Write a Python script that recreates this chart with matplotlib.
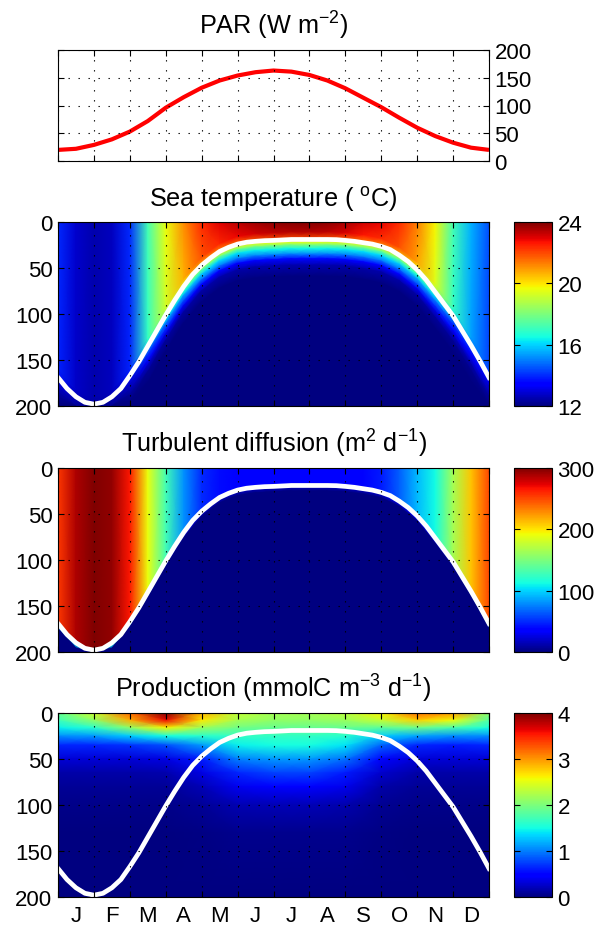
import numpy as np
import matplotlib
matplotlib.use('Agg')
import matplotlib.pyplot as plt

plt.rcParams['font.family'] = ['Liberation Sans', 'DejaVu Sans']
plt.rcParams['mathtext.fontset'] = 'custom'
plt.rcParams['mathtext.rm'] = 'Liberation Sans'
plt.rcParams['mathtext.it'] = 'Liberation Sans:italic'
plt.rcParams['mathtext.bf'] = 'Liberation Sans:bold'

months = ['J', 'F', 'M', 'A', 'M', 'J', 'J', 'A', 'S', 'O', 'N', 'D']

# time nodes, months since 1 Jan
t_half = np.linspace(0, 12, 25)
t_quarter = np.linspace(0, 12, 49)

# surface PAR (W m-2), half-monthly
par = [20, 22, 29, 39, 53, 72, 96, 115, 132, 145, 154, 160, 163,
       161, 155, 145, 131, 114, 97, 78, 60, 45, 33, 24, 20]

# mixed layer depth (m), quarter-monthly (white line)
mld = [169, 181, 190, 196, 198, 196, 190, 181, 167, 152, 135, 118,
       101, 85, 70, 57, 47, 39, 32, 27.5, 24, 22, 21, 20.3,
       20, 19.5, 19, 19, 19, 19, 19, 19.2, 20, 21, 22.5, 24,
       26.5, 30, 36, 43, 52, 63, 76, 89, 102, 118, 134, 151, 169]

# mixed layer temperature (C), half-monthly
sst = [14.0, 12.8, 12.5, 12.7, 14.0, 17.2, 19.6, 21.1, 22.4, 23.0, 23.4, 23.7, 23.9,
       24.0, 24.0, 23.9, 23.6, 23.2, 22.9, 22.4, 21.3, 19.8, 17.2, 15.6, 14.4]
temp_deep = 12.0
# offset from mixed layer depth (m) -> fraction of the surface anomaly
temp_offset = [-8, 0, 3, 6, 10, 16, 21, 28, 40]
temp_frac = [0.95, 0.82, 0.62, 0.5, 0.37, 0.25, 0.13, 0.04, 0.0]

# mixed layer diffusivity (m2 d-1), half-monthly
kz = [255, 288, 300, 295, 265, 190, 130, 80, 50, 40, 37, 36, 36,
      36, 36, 36, 37, 38, 45, 65, 92, 112, 165, 210, 250]
kz_deep = 0.0
kz_offset = [0, 3, 6]
kz_frac = [1.0, 0.35, 0.0]

# production (mmolC m-3 d-1), monthly nodes x depth levels
prod_t = np.arange(13)
prod_z = [0, 8, 16, 25, 35, 50, 65, 80, 100, 130, 200]
prod = [
    [1.9, 1.7, 1.45, 1.05, 0.65, 0.3, 0.15, 0.08, 0.04, 0.01, 0.0],
    [2.4, 2.1, 1.6, 1.1, 0.65, 0.3, 0.15, 0.08, 0.04, 0.01, 0.0],
    [3.2, 2.9, 2.1, 1.3, 0.7, 0.3, 0.15, 0.08, 0.04, 0.01, 0.0],
    [4.0, 3.6, 2.6, 1.5, 0.8, 0.35, 0.17, 0.08, 0.04, 0.01, 0.0],
    [2.9, 2.65, 2.15, 1.6, 1.1, 0.6, 0.35, 0.2, 0.08, 0.02, 0.0],
    [2.35, 2.2, 1.95, 1.65, 1.45, 1.0, 0.65, 0.4, 0.18, 0.05, 0.0],
    [2.2, 2.1, 1.9, 1.65, 1.5, 1.1, 0.75, 0.45, 0.2, 0.06, 0.0],
    [2.2, 2.1, 1.9, 1.65, 1.5, 1.1, 0.75, 0.45, 0.2, 0.06, 0.0],
    [2.3, 2.15, 1.9, 1.6, 1.4, 0.95, 0.6, 0.38, 0.16, 0.05, 0.0],
    [2.6, 2.35, 1.85, 1.3, 0.9, 0.5, 0.28, 0.15, 0.07, 0.02, 0.0],
    [3.2, 2.75, 1.95, 1.15, 0.65, 0.3, 0.15, 0.08, 0.04, 0.01, 0.0],
    [3.0, 2.55, 1.75, 1.05, 0.6, 0.3, 0.15, 0.08, 0.04, 0.01, 0.0],
    [2.1, 1.8, 1.5, 1.05, 0.65, 0.3, 0.15, 0.08, 0.04, 0.01, 0.0],
]


def mld_mesh(surf, deep, offsets, frac):
    # mesh rows follow the mixed layer depth (half-monthly nodes)
    z = np.array([[0.0] + [m + o for o in offsets] + [200.0] for m in mld[::2]])
    z = np.clip(z, 0, 200)
    z = np.maximum.accumulate(z, axis=1)
    f = np.array([1.0] + list(frac) + [0.0])
    c = deep + (np.array(surf) - deep)[:, None] * f[None, :]
    x = np.repeat(t_half[:, None], z.shape[1], axis=1)
    return x.T, z.T, c.T


def style(ax, bottom_labels=False):
    ax.set_xlim(0, 12)
    ax.set_xticks(range(13))
    ax.set_xticks(np.arange(12) + 0.5, minor=True)
    ax.set_xticklabels([])
    if bottom_labels:
        ax.set_xticklabels(months, minor=True)
    ax.tick_params(which='major', direction='in', length=4, width=0.8,
                   top=True, bottom=True, left=True, right=True, labelsize=16)
    ax.tick_params(which='minor', length=0, labelsize=16, pad=6)
    ax.grid(True, which='major', color='k', ls=(0, (1.2, 7.8)), lw=0.8)
    ax.set_axisbelow(False)
    for s in ax.spines.values():
        s.set_linewidth(0.8)


fig = plt.figure(figsize=(6.06, 9.28), dpi=100)
L, W = 58 / 606, 431 / 606
cb_l, cb_w = 514 / 606, 38 / 606

# PAR
ax0 = fig.add_axes([L, 1 - 162 / 928, W, 111 / 928])
ax0.plot(t_half, par, color='r', lw=3, solid_capstyle='butt')
style(ax0)
ax0.set_ylim(0, 200)
ax0.set_yticks([0, 50, 100, 150, 200])
ax0.yaxis.tick_right()
ax0.tick_params(axis='y', left=True, right=True, labelleft=False, labelright=True, pad=4)
ax0.set_title('PAR (W m$^{-2}$)', fontsize=18.2, pad=12)

panels = [
    (223, 'Sea temperature ( $^{\\mathrm{o}}$C)', (12, 24), [12, 16, 20, 24]),
    (469, 'Turbulent diffusion (m$^{2}$ d$^{-1}$)', (0, 300), [0, 100, 200, 300]),
    (714, 'Production (mmolC m$^{-3}$ d$^{-1}$)', (0, 4), [0, 1, 2, 3, 4]),
]
fields = [
    mld_mesh(sst, temp_deep, temp_offset, temp_frac),
    mld_mesh(kz, kz_deep, kz_offset, kz_frac),
    None,
]

for i, ((top, title, lim, cticks), fld) in enumerate(zip(panels, fields)):
    ax = fig.add_axes([L, 1 - (top + 184) / 928, W, 184 / 928])
    if fld is not None:
        X, Z, C = fld
        pm = ax.pcolormesh(X, Z, C, shading='gouraud', cmap='jet',
                           vmin=lim[0], vmax=lim[1], rasterized=True)
    else:
        pm = ax.pcolormesh(prod_t, prod_z, np.array(prod).T, shading='gouraud',
                           cmap='jet', vmin=lim[0], vmax=lim[1], rasterized=True)
    ax.plot(t_quarter, mld, color='w', lw=3.4)
    style(ax, bottom_labels=(i == 2))
    ax.set_ylim(200, 0)
    ax.set_yticks([0, 50, 100, 150, 200])
    ax.tick_params(axis='y', pad=4)
    ax.set_title(title, fontsize=18.2, pad=12)

    cax = fig.add_axes([cb_l, 1 - (top + 184) / 928, cb_w, 184 / 928])
    cb = fig.colorbar(pm, cax=cax, ticks=cticks)
    cb.outline.set_linewidth(0.8)
    cax.tick_params(direction='in', length=4, width=0.8, left=True, right=True,
                    labelsize=16, pad=4)

fig.savefig('out.png', dpi=100)
